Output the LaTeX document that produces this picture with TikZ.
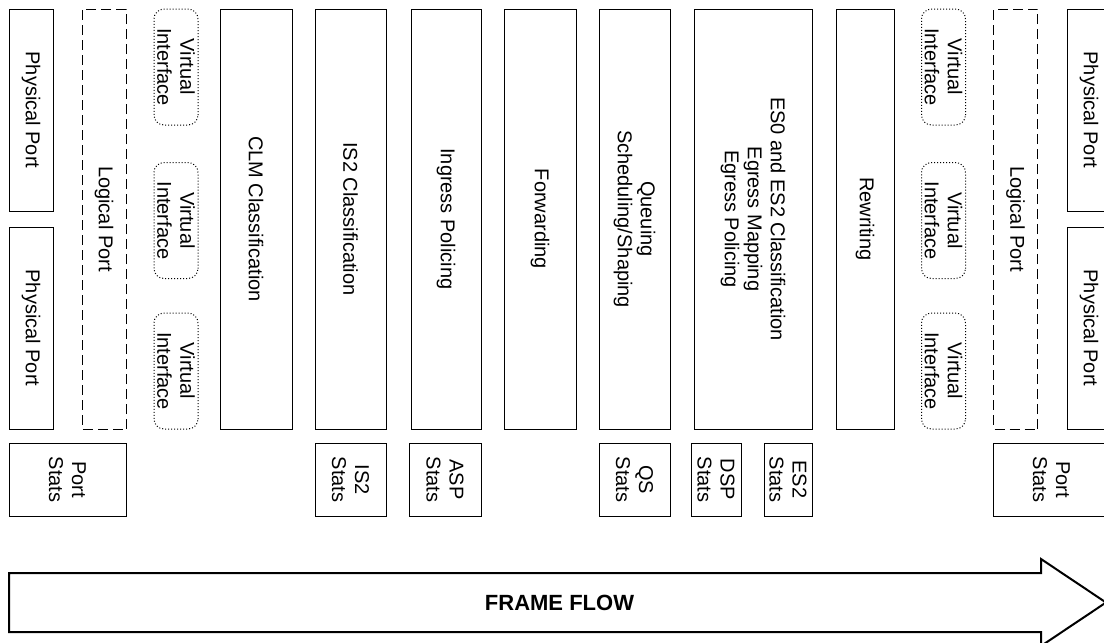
\documentclass[tikz,border=0pt]{standalone}
\usepackage{fontspec}
\setmainfont{Liberation Sans}
\usepackage{tikz}
\tikzstyle{box} = [
    draw,
    line width=0.5pt,
    rotate=-90,
    align=center,
    inner sep=0pt,
    font=\fontsize{10}{11.5}\selectfont
]
\tikzstyle{port} = [box, minimum width=101pt, minimum height=22pt]
\tikzstyle{logport} = [box, dash pattern=on 5pt off 2.5pt, minimum width=210pt, minimum height=22pt]
\tikzstyle{vif} = [box, densely dotted, rounded corners=5pt, minimum width=58pt, minimum height=22pt]
\tikzstyle{stage} = [box, minimum width=210pt]
\tikzstyle{stats} = [box, minimum width=36.5pt]

\begin{document}
\begin{tikzpicture}[x=0.5pt, y=-0.5pt]
    \useasboundingbox (0,0) rectangle (1104,643);
    % Ingress side
    \node (physA) [port] at (31,110) {Physical Port};
    \node (physB) [port] at (31,328) {Physical Port};
    \node (logA) [logport] at (104,219) {Logical Port};
    \node (vifA) [vif] at (176,67) {Virtual\\Interface};
    \node (vifB) [vif] at (176,220.5) {Virtual\\Interface};
    \node (vifC) [vif] at (176,371) {Virtual\\Interface};
    \node (statsA) [stats, minimum height=58.5pt] at (67.5,479.5) {Port\\Stats};
    % Processing stages
    \node (clm) [stage, minimum height=36pt] at (256,219) {CLM Classification};
    \node (is2) [stage, minimum height=35.5pt] at (350.5,219) {IS2 Classification};
    \node (asp) [stage, minimum height=35pt] at (446,219) {Ingress Policing};
    \node (fwd) [stage, minimum height=36pt] at (540,219) {Forwarding};
    \node (qs) [stage, minimum height=35.5pt] at (634.5,219) {Queuing\\Scheduling/Shaping};
    \node (es) [stage, minimum height=59pt] at (753,219) {ES0 and ES2 Classification\\Egress Mapping\\Egress Policing};
    \node (rw) [stage, minimum height=29pt] at (865,219) {Rewriting};
    % Egress side
    \node (vifD) [vif] at (943.5,67) {Virtual\\Interface};
    \node (vifE) [vif] at (943.5,220.5) {Virtual\\Interface};
    \node (vifF) [vif] at (943.5,371) {Virtual\\Interface};
    \node (logB) [logport] at (1015.5,219) {Logical Port};
    \node (physC) [port] at (1089,110) {Physical Port};
    \node (physD) [port] at (1089,328) {Physical Port};
    \node (statsB) [stats, minimum height=58.5pt] at (1051.5,479.5) {Port\\Stats};
    % Counters
    \node (is2s) [stats, minimum height=35.5pt] at (350.5,479.5) {IS2\\Stats};
    \node (asps) [stats, minimum height=36pt] at (445,479.5) {ASP\\Stats};
    \node (qss) [stats, minimum height=35.5pt] at (634.5,479.5) {QS\\Stats};
    \node (dsps) [stats, minimum height=25pt] at (716,479.5) {DSP\\Stats};
    \node (es2s) [stats, minimum height=24pt] at (788,479.5) {ES2\\Stats};
    % Frame flow
    \draw [line width=1pt, line join=miter] (9,573) -- (1041,573) -- (1041,559) -- (1106,602.5)
        -- (1041,646) -- (1041,632) -- (9,632) -- cycle;
    \node (flow) at (559.5,602.5) {\fontsize{11}{13}\selectfont\bfseries FRAME FLOW};
\end{tikzpicture}
\end{document}
